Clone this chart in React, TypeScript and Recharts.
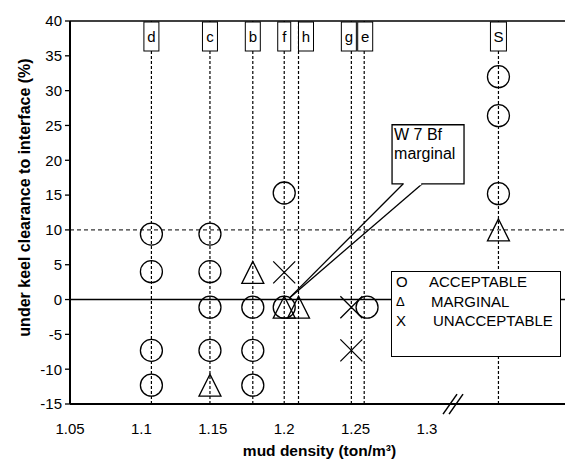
import { ScatterChart, Scatter, XAxis, YAxis, ReferenceLine, ReferenceArea, Legend } from 'recharts';

const FONT = '"Liberation Sans", Arial, Helvetica, sans-serif';

const xTicks = [1.05, 1.1, 1.15, 1.2, 1.25, 1.3];
const yTicks = [-15, -10, -5, 0, 5, 10, 15, 20, 25, 30, 35, 40];
const xMin = 1.05;
const xMax = 1.3966;

const xTitle = 'mud density (ton/m³)';
const yTitle = 'under keel clearance to interface (%)';

// vertical reference lines, one per test case
const tagNames = ['d', 'c', 'b', 'f', 'h', 'g', 'e', 'S'];
const tagDensity = [1.107, 1.148, 1.178, 1.2, 1.21, 1.247, 1.256, 1.35];

const acceptable = [
  { x: 1.107, y: 9.4 }, { x: 1.107, y: 4.0 }, { x: 1.107, y: -7.3 }, { x: 1.107, y: -12.3 },
  { x: 1.148, y: 9.4 }, { x: 1.148, y: 4.0 }, { x: 1.148, y: -1.1 }, { x: 1.148, y: -7.3 },
  { x: 1.178, y: -1.1 }, { x: 1.178, y: -7.3 }, { x: 1.178, y: -12.3 },
  { x: 1.2, y: 15.3 }, { x: 1.2, y: -1.1 },
  { x: 1.258, y: -1.1 },
  { x: 1.35, y: 32.0 }, { x: 1.35, y: 26.4 }, { x: 1.35, y: 15.2 },
];
const marginal = [
  { x: 1.148, y: -12.3 },
  { x: 1.178, y: 3.9 },
  { x: 1.2, y: -1.1 },
  { x: 1.21, y: -1.1 },
  { x: 1.35, y: 10.0 },
];
const unacceptable = [
  { x: 1.2, y: 3.9 },
  { x: 1.247, y: -1.1 },
  { x: 1.247, y: -7.3 },
];

// "W 7 Bf marginal" callout, in data units
const calloutLines = ['W 7 Bf', 'marginal'];
const calloutBox = { x1: 1.2755, x2: 1.3259, y1: 16.6, y2: 25.1 };
const calloutTip = { x: 1.2035, y: 0.2 };
const calloutBase = [1.2832, 1.2965];

// axis break mark "//"
const breakMarks = [
  [{ x: 1.3112, y: -16.45 }, { x: 1.321, y: -13.58 }],
  [{ x: 1.3154, y: -16.45 }, { x: 1.3252, y: -13.58 }],
];

const tagShift: Record<string, number> = { h: 7.5, g: -2.5, e: 1 };
const tagWidth: Record<string, number> = { f: 13, S: 16 };

function LineTag(props: any) {
  const { viewBox, tag } = props;
  if (!viewBox) return null;
  const cx = viewBox.x + (tagShift[tag] || 0);
  const w = tagWidth[tag] || 15;
  const top = viewBox.y + 1;
  return (
    <g>
      <rect x={cx - w / 2} y={top} width={w} height={29} fill="#fff" stroke="#000" strokeWidth={1} />
      <text x={cx} y={top + 20} textAnchor="middle" fontSize={15} fontFamily={FONT} fill="#000">
        {tag}
      </text>
    </g>
  );
}

function CalloutText(props: any) {
  const { viewBox } = props;
  if (!viewBox) return null;
  return (
    <text x={viewBox.x + 2} y={viewBox.y + 15} fontSize={16} fontFamily={FONT} fill="#000">
      {calloutLines.map((line, i) => (
        <tspan key={line} x={viewBox.x + 2} dy={i === 0 ? 0 : 19}>
          {line}
        </tspan>
      ))}
    </text>
  );
}

function XTitle(props: any) {
  const { viewBox } = props;
  if (!viewBox) return null;
  return (
    <text
      x={viewBox.x + viewBox.width / 2 + 2}
      y={viewBox.y + 52}
      textAnchor="middle"
      fontSize={15.5}
      fontWeight="bold"
      fontFamily={FONT}
      fill="#000"
    >
      {xTitle}
    </text>
  );
}

function YTitle(props: any) {
  const { viewBox } = props;
  if (!viewBox) return null;
  const x = viewBox.x + 30;
  const y = viewBox.y + viewBox.height / 2 - 15;
  return (
    <text
      x={x}
      y={y}
      transform={`rotate(-90, ${x}, ${y})`}
      textAnchor="middle"
      fontSize={16}
      fontWeight="bold"
      fontFamily={FONT}
      fill="#000"
    >
      {yTitle}
    </text>
  );
}

const Circle = (p: any) => (
  <circle cx={p.cx} cy={p.cy} r={11} fill="none" stroke="#000" strokeWidth={1.3} />
);
const Triangle = (p: any) => (
  <polygon
    points={`${p.cx},${p.cy - 11} ${p.cx - 11},${p.cy + 11} ${p.cx + 11},${p.cy + 11}`}
    fill="none"
    stroke="#000"
    strokeWidth={1.3}
  />
);
const Cross = (p: any) => (
  <path
    d={`M${p.cx - 11},${p.cy - 11}L${p.cx + 11},${p.cy + 11}M${p.cx - 11},${p.cy + 11}L${p.cx + 11},${p.cy - 11}`}
    stroke="#000"
    strokeWidth={1.3}
    fill="none"
  />
);

const legendSymbol: Record<string, string> = { ACCEPTABLE: 'O', MARGINAL: 'Δ', UNACCEPTABLE: 'X' };

function LegendBox({ payload }: any) {
  return (
    <div
      style={{
        width: 168,
        height: 84,
        border: '1.5px solid #000',
        background: '#fff',
        fontFamily: FONT,
        fontSize: 15,
        color: '#000',
        position: 'relative',
      }}
    >
      {(payload || []).map((entry: any, i: number) => (
        <div key={entry.value} style={{ position: 'absolute', left: 4, top: 1 + i * 19.5, lineHeight: '18px', whiteSpace: 'nowrap' }}>
          <span style={{ position: 'absolute', left: 0, fontSize: i === 1 ? 13 : 15 }}>{legendSymbol[entry.value]}</span>
          <span style={{ position: 'absolute', left: 33 + i * 2 }}>{entry.value}</span>
        </div>
      ))}
    </div>
  );
}

export default function App() {
  return (
    <div style={{ position: 'absolute', left: 0, top: 0, background: '#fff' }}>
      <ScatterChart width={565} height={462} margin={{ top: 21, right: 0, bottom: 0, left: 0 }}>
        <XAxis
          type="number"
          dataKey="x"
          domain={[xMin, xMax]}
          ticks={xTicks}
          allowDataOverflow
          tickLine={false}
          tickSize={0}
          tickMargin={19}
          height={58}
          axisLine={{ stroke: '#000', strokeWidth: 2 }}
          tick={{ fill: '#000', fontSize: 15, fontFamily: FONT }}
          tickFormatter={(v: number) => String(v)}
          label={<XTitle />}
        />
        <YAxis
          type="number"
          dataKey="y"
          domain={[-15, 40]}
          ticks={yTicks}
          allowDataOverflow
          width={70}
          tickSize={5}
          tickMargin={3}
          tickLine={{ stroke: '#000', strokeWidth: 1.3 }}
          axisLine={{ stroke: '#000', strokeWidth: 2 }}
          tick={{ fill: '#000', fontSize: 15, fontFamily: FONT }}
          label={<YTitle />}
        />
        <ReferenceLine y={40} stroke="#000" strokeWidth={1.5} />
        <ReferenceLine y={10} stroke="#000" strokeWidth={1} strokeDasharray="4 3" />
        <ReferenceLine y={0} stroke="#000" strokeWidth={1.5} />
        {tagNames.map((tag, i) => (
          <ReferenceLine
            key={tag}
            x={tagDensity[i]}
            stroke="#000"
            strokeWidth={1.2}
            strokeDasharray="3 2"
            label={<LineTag tag={tag} />}
          />
        ))}
        <ReferenceLine
          segment={[{ x: calloutBase[0], y: calloutBox.y1 }, calloutTip]}
          stroke="#000"
          strokeWidth={1.3}
        />
        <ReferenceLine
          segment={[{ x: calloutBase[1], y: calloutBox.y1 }, calloutTip]}
          stroke="#000"
          strokeWidth={1.3}
        />
        <ReferenceArea
          x1={calloutBox.x1}
          x2={calloutBox.x2}
          y1={calloutBox.y1}
          y2={calloutBox.y2}
          fill="#fff"
          fillOpacity={1}
          stroke="#000"
          strokeWidth={1.3}
          label={<CalloutText />}
        />
        <ReferenceLine
          segment={[{ x: calloutBase[0] + 0.0005, y: calloutBox.y1 }, { x: calloutBase[1] - 0.0005, y: calloutBox.y1 }]}
          stroke="#fff"
          strokeWidth={2.5}
        />
        {breakMarks.map((seg, i) => (
          <ReferenceLine key={i} segment={seg} stroke="#000" strokeWidth={1.5} ifOverflow="visible" />
        ))}
        <Scatter name="ACCEPTABLE" data={acceptable} shape={Circle} isAnimationActive={false} />
        <Scatter name="MARGINAL" data={marginal} shape={Triangle} isAnimationActive={false} />
        <Scatter name="UNACCEPTABLE" data={unacceptable} shape={Cross} isAnimationActive={false} />
        <Legend
          layout="vertical"
          align="center"
          verticalAlign="middle"
          content={<LegendBox />}
          wrapperStyle={{ left: 391, top: 271, width: 170, height: 86 }}
        />
      </ScatterChart>
    </div>
  );
}
